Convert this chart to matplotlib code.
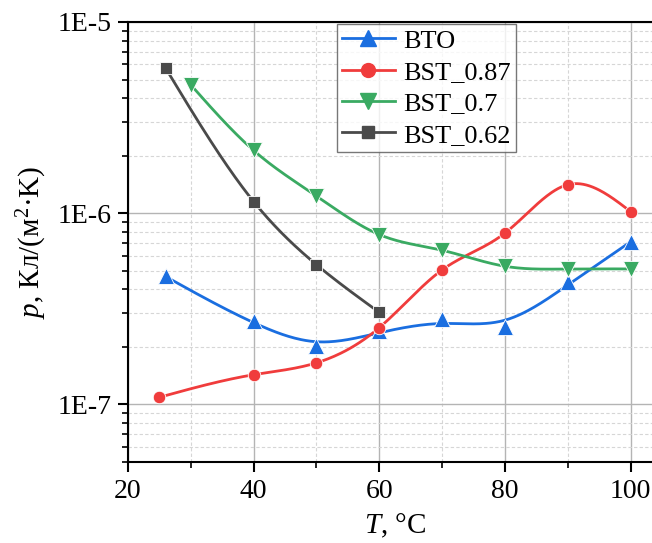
import numpy as np
import matplotlib
matplotlib.use('Agg')
import matplotlib.pyplot as plt
from matplotlib.ticker import LogLocator, NullFormatter, FixedLocator

plt.rcParams['font.family'] = ['Liberation Serif', 'DejaVu Serif']
plt.rcParams['mathtext.fontset'] = 'custom'
plt.rcParams['mathtext.rm'] = 'Liberation Serif'
plt.rcParams['mathtext.it'] = 'Liberation Serif:italic'

# данные
t_bto = [26, 40, 50, 60, 70, 80, 90, 100]
p_bto = [4.68e-7, 2.72e-7, 2.03e-7, 2.41e-7, 2.80e-7, 2.55e-7, 4.36e-7, 7.08e-7]

t_087 = [25, 40, 50, 60, 70, 80, 90, 100]
p_087 = [1.09e-7, 1.43e-7, 1.65e-7, 2.52e-7, 5.05e-7, 7.87e-7, 1.41e-6, 1.02e-6]

t_07 = [30, 40, 50, 60, 70, 80, 90, 100]
p_07 = [4.69e-6, 2.13e-6, 1.23e-6, 7.73e-7, 6.40e-7, 5.28e-7, 5.11e-7, 5.11e-7]

t_062 = [26, 40, 50, 60]
p_062 = [5.73e-6, 1.15e-6, 5.38e-7, 3.03e-7]


def spline(x, y, lam=0.0, n=300):
    # сглаживающий кубический сплайн (Reinsch) в лог. масштабе, lam=0 -> интерполяция
    x = np.asarray(x, float)
    y = np.log10(np.asarray(y, float))
    k = len(x)
    h = np.diff(x)
    Q = np.zeros((k, k - 2))
    R = np.zeros((k - 2, k - 2))
    for j in range(k - 2):
        Q[j, j] = 1 / h[j]
        Q[j + 1, j] = -1 / h[j] - 1 / h[j + 1]
        Q[j + 2, j] = 1 / h[j + 1]
        R[j, j] = (h[j] + h[j + 1]) / 3
        if j < k - 3:
            R[j, j + 1] = R[j + 1, j] = h[j + 1] / 6
    Ri = np.linalg.inv(R)
    g = np.linalg.solve(np.eye(k) + lam * Q @ Ri @ Q.T, y)
    gam = np.concatenate([[0], Ri @ Q.T @ g, [0]])
    xs = np.linspace(x[0], x[-1], n)
    i = np.clip(np.searchsorted(x, xs, side='right') - 1, 0, k - 2)
    a = xs - x[i]
    b = x[i + 1] - xs
    hh = h[i]
    ys = (a * g[i + 1] + b * g[i]) / hh - a * b / 6 * ((1 + a / hh) * gam[i + 1] + (1 + b / hh) * gam[i])
    return xs, 10 ** ys


fig = plt.figure(figsize=(6.52, 5.43), dpi=100)
ax = fig.add_axes([0.1963, 0.1492, 0.819, 0.8103])

series = [
    (t_bto, p_bto, '#1a6ee0', '^', 'BTO', 11, 50),
    (t_087, p_087, '#f03c3c', 'o', 'BST_0.87', 9, 0),
    (t_07, p_07, '#3aaa62', 'v', 'BST_0.7', 11, 0),
    (t_062, p_062, '#4a4a4a', 's', 'BST_0.62', 8, 0),
]
for t, p, col, m, lab, ms, lam in series:
    xs, ys = spline(t, p, lam)
    ax.plot(xs, ys, color=col, lw=2, zorder=3)
    ax.plot(t, p, ls='none', marker=m, ms=ms, color=col, mec='white', mew=0.6, zorder=4)
    ax.plot([], [], color=col, lw=2, marker=m, ms=ms + 1, mec=col, label=lab)

ax.set_yscale('log')
ax.set_xlim(20, 105)
ax.set_ylim(5e-8, 1e-5)
ax.xaxis.set_major_locator(FixedLocator([20, 40, 60, 80, 100]))
ax.xaxis.set_minor_locator(FixedLocator([30, 50, 70, 90]))
ax.yaxis.set_major_locator(FixedLocator([1e-7, 1e-6, 1e-5]))
ax.yaxis.set_minor_locator(LogLocator(base=10, subs=np.arange(2, 10)))
ax.yaxis.set_minor_formatter(NullFormatter())
ax.set_yticklabels(['1E-7', '1E-6', '1E-5'])

ax.grid(True, which='major', color='#b4b4b4', lw=1)
ax.grid(True, which='minor', color='#d6d6d6', lw=0.8, ls=(0, (3, 2)))
ax.set_axisbelow(True)

ax.tick_params(which='major', direction='out', length=7, width=1.5, labelsize=20, pad=5)
ax.tick_params(which='minor', direction='out', length=4, width=1.2)
for s in ax.spines.values():
    s.set_linewidth(1.5)

ax.set_xlabel(r'$\it{T}$, °C', fontsize=21, labelpad=6)
ax.set_ylabel(r'$\it{p}$, Кл/(м$^2$·K)', fontsize=21, labelpad=6)

leg = ax.legend(loc='upper left', bbox_to_anchor=(0.391, 0.996), fontsize=19,
                frameon=True, fancybox=False, edgecolor='#555555',
                handlelength=2.0, handletextpad=0.3, labelspacing=0.3,
                borderpad=0.2, borderaxespad=0.0)
leg.get_frame().set_linewidth(1)

fig.savefig('out.png', dpi=100)
